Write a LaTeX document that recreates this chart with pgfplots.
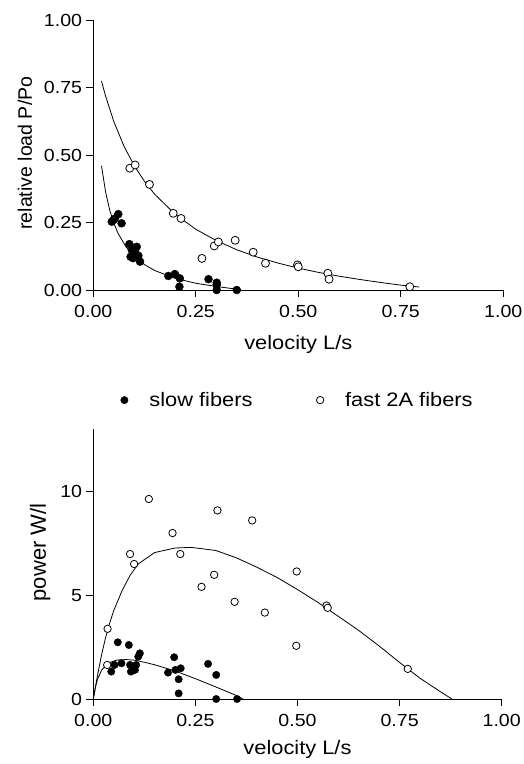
\documentclass[border=0pt]{standalone}
\usepackage{fontspec}
\setmainfont{Liberation Sans}[FakeStretch=1.12]
\newfontfamily\vfont{Liberation Sans}
\usepackage{pgfplots}
\pgfplotsset{compat=1.18}

\pgfplotsset{
  twodec/.style={/pgf/number format/fixed, /pgf/number format/fixed zerofill, /pgf/number format/precision=2},
  panel/.style={
    scale only axis, width=410pt, height=270pt,
    axis x line*=bottom, axis y line*=left,
    xmin=0, xmax=1, xtick={0,0.25,0.5,0.75,1},
    tick align=outside, major tick length=7pt,
    tick style={black, line width=0.8pt},
    axis line style={black, line width=0.8pt},
    /pgf/number format/assume math mode=true,
    tick label style={font=\fontsize{17.5}{20}\selectfont},
    xticklabel style={twodec, anchor=base, yshift=-20.5pt},
    yticklabel style={inner xsep=4pt},
    xlabel={velocity L/s},
    xlabel style={font=\fontsize{19.5}{23}\selectfont, anchor=base},
    clip=false,
  },
  slow/.style={only marks, mark=*, mark size=#1, black},
  fast/.style={only marks, mark=*, mark size=#1, mark options={draw=black, fill=white, line width=0.8pt}},
  fit/.style={black, line width=0.8pt, no marks},
}

\begin{document}
\begin{tikzpicture}[x=1pt,y=1pt]
\useasboundingbox (0,0) rectangle (523,764);

% force-velocity
\begin{axis}[panel, at={(93.3pt,474pt)}, anchor=south west,
  ymin=0, ymax=1, ytick={0,0.25,0.5,0.75,1},
  yticklabel style={twodec},
  xlabel style={at={(axis description cs:0.5,-0.219)}},
  ylabel={relative load P/Po},
  ylabel style={at={(axis description cs:-0.150,0.507)}, anchor=base,
    font=\vfont\fontsize{19.5}{23}\selectfont}]
\addplot[fit] coordinates {(0.02,0.774) (0.03,0.718) (0.05,0.624) (0.075,0.532) (0.10,0.460) (0.125,0.402) (0.15,0.354) (0.20,0.280) (0.25,0.225) (0.30,0.183) (0.35,0.149) (0.40,0.122) (0.45,0.100) (0.50,0.081) (0.55,0.065) (0.60,0.051) (0.65,0.039) (0.70,0.028) (0.75,0.018) (0.795,0.011)};
\addplot[fit] coordinates {(0.02,0.460) (0.03,0.363) (0.04,0.296) (0.05,0.248) (0.06,0.211) (0.08,0.159) (0.10,0.124) (0.125,0.094) (0.15,0.072) (0.20,0.043) (0.25,0.025) (0.30,0.013) (0.35,0.003) (0.36,0.001)};
\addplot[slow=4pt] coordinates {
 (0.045,0.253) (0.049,0.259) (0.053,0.265) (0.061,0.281) (0.069,0.247)
 (0.088,0.170) (0.091,0.123) (0.094,0.148) (0.097,0.118) (0.102,0.142)
 (0.106,0.160) (0.110,0.127) (0.114,0.105) (0.183,0.052) (0.199,0.059)
 (0.211,0.043) (0.210,0.012) (0.281,0.040) (0.301,0.027) (0.301,0.019)
 (0.301,0.000) (0.350,0.000)};
\addplot[fast=4pt] coordinates {
 (0.089,0.451) (0.102,0.463) (0.137,0.391) (0.195,0.284) (0.214,0.265)
 (0.265,0.117) (0.295,0.163) (0.305,0.178) (0.346,0.184) (0.390,0.140)
 (0.420,0.099) (0.498,0.093) (0.500,0.086) (0.572,0.062) (0.575,0.040)
 (0.772,0.012)};
\end{axis}

% power-velocity
\begin{axis}[panel, at={(93.3pt,65pt)}, anchor=south west, width=408.4pt,
  ymin=0, ymax=13, ytick={0,5,10},
  xlabel style={at={(axis description cs:0.5,-0.204)}},
  ylabel={power W/l},
  ylabel style={at={(axis description cs:-0.116,0.543)}, anchor=base,
    font=\vfont\fontsize{22}{26}\selectfont},
  legend columns=2,
  legend image code/.code={\path[draw=none] (-4pt,0pt) (23pt,0pt); \draw[#1] plot coordinates {(0pt,0pt)};},
  legend style={draw=none, fill=none, at={(0.5,1.107)}, anchor=center,
    font=\fontsize{19.5}{23}\selectfont, column sep=0pt,
    nodes={inner sep=2pt},
    /tikz/every even column/.append style={column sep=61.6pt}}]
\addplot[fit, forget plot] coordinates {(0,0) (0.01,1.1) (0.02,2.1) (0.03,2.95) (0.04,3.65) (0.05,4.25) (0.07,5.2) (0.09,5.95) (0.11,6.5) (0.15,7.05) (0.20,7.27) (0.24,7.30) (0.30,7.15) (0.35,6.8) (0.40,6.35) (0.45,5.85) (0.50,5.27) (0.55,4.65) (0.60,3.98) (0.65,3.30) (0.70,2.55) (0.75,1.76) (0.80,1.00) (0.85,0.35) (0.878,0)};
\addplot[fit, forget plot] coordinates {(0,0) (0.005,0.55) (0.01,0.93) (0.02,1.38) (0.03,1.60) (0.04,1.75) (0.05,1.83) (0.06,1.88) (0.08,1.90) (0.10,1.87) (0.125,1.77) (0.15,1.65) (0.20,1.35) (0.25,0.98) (0.30,0.58) (0.35,0.17) (0.367,0)};
\addplot[slow=3.7pt] coordinates {
 (0.044,1.32) (0.052,1.64) (0.060,2.73) (0.069,1.72) (0.087,2.60)
 (0.090,1.64) (0.092,1.32) (0.097,1.48) (0.102,1.40) (0.105,1.64)
 (0.110,2.04) (0.114,2.20) (0.183,1.27) (0.198,2.01) (0.201,1.40)
 (0.214,1.48) (0.209,0.95) (0.209,0.27) (0.281,1.69) (0.301,1.16)
 (0.301,0.00) (0.352,0.00)};
\addlegendentry{slow fibers}
\addplot[fast=3.7pt] coordinates {
 (0.035,3.38) (0.034,1.64) (0.090,6.98) (0.100,6.50) (0.136,9.63)
 (0.194,7.99) (0.213,6.98) (0.265,5.40) (0.296,5.98) (0.304,9.08)
 (0.346,4.68) (0.389,8.60) (0.420,4.16) (0.498,6.14) (0.497,2.56)
 (0.571,4.50) (0.574,4.39) (0.770,1.45)};
\addlegendentry{fast 2A fibers}
\end{axis}
\end{tikzpicture}
\end{document}
